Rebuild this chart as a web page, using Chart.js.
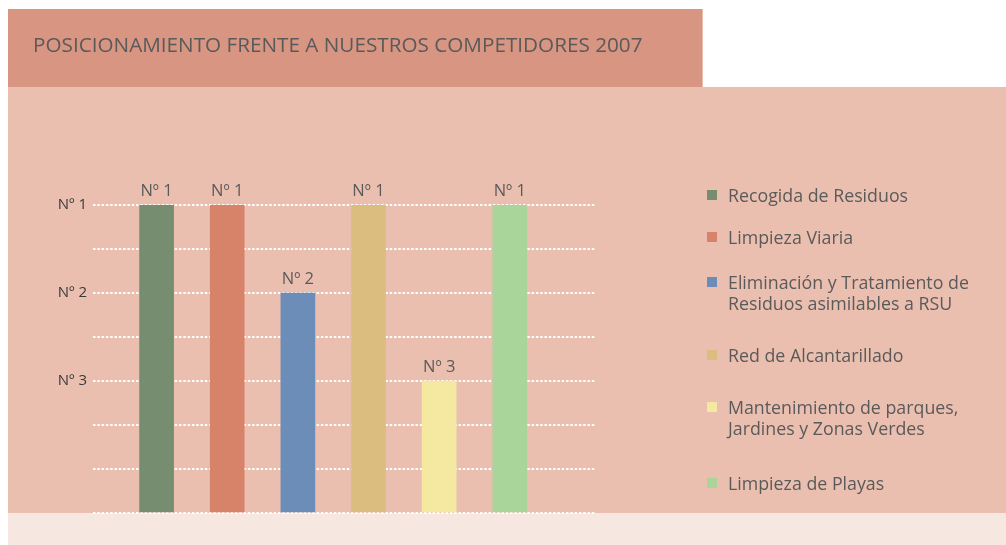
<!DOCTYPE html>
<html>
<head>
<meta charset="utf-8">
<script src="https://cdn.jsdelivr.net/npm/chart.js@4/dist/chart.umd.min.js"></script>
<style>
  html, body { margin: 0; padding: 0; background: #ffffff; }
  #wrap { width: 1006px; height: 545px; position: relative; }
</style>
</head>
<body>
<div id="wrap"><canvas id="c" width="1006" height="545"></canvas></div>
<script>
// ---- data ----
const categories = [
  "Recogida de Residuos",
  "Limpieza Viaria",
  "Eliminación y Tratamiento de Residuos asimilables a RSU",
  "Red de Alcantarillado",
  "Mantenimiento de parques, Jardines y Zonas Verdes",
  "Limpieza de Playas"
];
const legendLines = [
  ["Recogida de Residuos"],
  ["Limpieza Viaria"],
  ["Eliminación y Tratamiento de", "Residuos asimilables a RSU"],
  ["Red de Alcantarillado"],
  ["Mantenimiento de parques,", "Jardines y Zonas Verdes"],
  ["Limpieza de Playas"]
];
const barPositions = [0, 1, 2, 3, 4, 5];
const barValues = [7, 7, 5, 7, 3, 7];
const barLabels = ["Nº 1", "Nº 1", "Nº 2", "Nº 1", "Nº 3", "Nº 1"];
const tickValues = [7, 5, 3];
const tickLabels = ["Nº 1", "Nº 2", "Nº 3"];
const barColors = ["#768e6f", "#d6836a", "#6b8db8", "#dbbd7f", "#f5e9a2", "#a9d49a"];
const titleText = "POSICIONAMIENTO FRENTE A NUESTROS COMPETIDORES 2007";

// ---- layout / style ----
const FONT = "'Open Sans', 'Noto Sans', sans-serif";
const TEXT_COLOR = "#5a5a5a";
const legendLayout = { boxX: 707, boxSize: 10, textX: 728, lineH: 21, firstLineY: [197, 239, 284, 357, 409, 485] };

const backgroundPlugin = {
  id: 'bg',
  beforeDraw(chart) {
    const ctx = chart.ctx;
    ctx.save();
    ctx.fillStyle = '#ffffff';
    ctx.fillRect(0, 0, chart.width, chart.height);
    ctx.fillStyle = '#d89582';
    ctx.fillRect(8, 9, 695, 78);
    ctx.fillStyle = '#e9bcad';
    ctx.fillRect(702, 9, 1, 78);
    ctx.fillStyle = '#eabfb0';
    ctx.fillRect(8, 87, 998, 426);
    ctx.fillStyle = '#f7e7e1';
    ctx.fillRect(8, 513, 998, 32);
    ctx.restore();
  }
};

const barLabelPlugin = {
  id: 'barLabels',
  afterDatasetsDraw(chart) {
    const ctx = chart.ctx;
    const meta = chart.getDatasetMeta(0);
    ctx.save();
    ctx.font = "16.5px " + FONT;
    ctx.fillStyle = TEXT_COLOR;
    ctx.textAlign = 'center';
    ctx.textBaseline = 'alphabetic';
    meta.data.forEach((bar, i) => {
      ctx.fillText(barLabels[i], bar.x, bar.y - 9);
    });
    ctx.restore();
  }
};

const legendPlugin = {
  id: 'sideLegend',
  afterDraw(chart) {
    const ctx = chart.ctx;
    ctx.save();
    ctx.font = "17.8px " + FONT;
    ctx.textBaseline = 'middle';
    ctx.textAlign = 'left';
    legendLines.forEach((lines, i) => {
      const y0 = legendLayout.firstLineY[i];
      ctx.fillStyle = barColors[i];
      ctx.fillRect(legendLayout.boxX, y0 - 7, legendLayout.boxSize, legendLayout.boxSize);
      ctx.fillStyle = TEXT_COLOR;
      lines.forEach((t, j) => ctx.fillText(t, legendLayout.textX, y0 + j * legendLayout.lineH));
    });
    ctx.restore();
  }
};

new Chart(document.getElementById('c'), {
  type: 'bar',
  data: {
    labels: categories,
    datasets: [{
      label: 'Posición',
      data: barValues.map((v, i) => ({ x: barPositions[i], y: v })),
      backgroundColor: barColors,
      borderWidth: 0,
      barThickness: 34
    }]
  },
  options: {
    responsive: false,
    animation: false,
    layout: { padding: { left: 33, right: 0, top: 0, bottom: 32 } },
    plugins: {
      legend: { display: false },
      tooltip: { enabled: false },
      title: {
        display: true,
        text: titleText,
        align: 'start',
        color: TEXT_COLOR,
        font: { family: FONT, size: 20.7, weight: 'normal', lineHeight: 1.2 },
        padding: { top: 34, bottom: 146.16 }
      }
    },
    scales: {
      x: {
        type: 'linear',
        display: false,
        offset: false,
        min: -0.9,
        max: 6.22
      },
      y: {
        min: 0,
        max: 7,
        afterFit(scale) { scale.width = 60; },
        ticks: {
          stepSize: 1,
          padding: 6,
          color: '#3a3a3a',
          font: { family: FONT, size: 15 },
          callback(value) {
            const k = tickValues.indexOf(value);
            return k >= 0 ? tickLabels[k] : '';
          }
        },
        grid: {
          color: '#ffffff',
          lineWidth: 2,
          drawTicks: false,
          borderDash: [2.5, 1.8]
        },
        border: { display: false, dash: [2.5, 1.8] }
      },
      legendSpace: {
        type: 'linear',
        position: 'right',
        display: true,
        afterFit(scale) { scale.width = 410; },
        ticks: { display: false },
        grid: { display: false, drawTicks: false },
        border: { display: false }
      }
    }
  },
  plugins: [backgroundPlugin, barLabelPlugin, legendPlugin]
});
</script>
</body>
</html>
